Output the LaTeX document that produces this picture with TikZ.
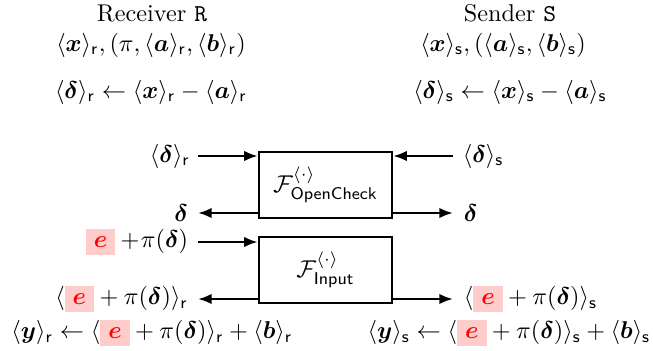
\documentclass[tikz,border=0pt]{standalone}
\usepackage{amsmath,bm}
\usetikzlibrary{arrows.meta}
\setlength{\fboxsep}{3.3pt}
\newcommand{\hle}{\colorbox{red!20}{$\color{red}\bm{e}$}}
\begin{document}
\begin{tikzpicture}[x=0.412pt,y=-0.412pt,
  fbox/.style={draw,line width=1pt,minimum width=133*0.412pt,minimum height=66*0.412pt,inner sep=0pt},
  arr/.style={line width=1pt,-{Latex[length=5.6pt,width=4.3pt]}},
  lab/.style={inner sep=1pt}]
\useasboundingbox (0,0) rectangle (653,351);
% headers
\node[lab] (rh) at (152,13) {Receiver \texttt{R}};
\node[lab] (sh) at (510,13) {Sender \texttt{S}};
\node[lab] (ri) at (151,45) {$\langle\bm{x}\rangle_{\mathsf{r}},(\pi,\langle\bm{a}\rangle_{\mathsf{r}},\langle\bm{b}\rangle_{\mathsf{r}})$};
\node[lab] (si) at (503,45) {$\langle\bm{x}\rangle_{\mathsf{s}},(\langle\bm{a}\rangle_{\mathsf{s}},\langle\bm{b}\rangle_{\mathsf{s}})$};
\node[lab] (rd) at (151,92) {$\langle\bm{\delta}\rangle_{\mathsf{r}}\leftarrow\langle\bm{x}\rangle_{\mathsf{r}}-\langle\bm{a}\rangle_{\mathsf{r}}$};
\node[lab] (sd) at (510,92) {$\langle\bm{\delta}\rangle_{\mathsf{s}}\leftarrow\langle\bm{x}\rangle_{\mathsf{s}}-\langle\bm{a}\rangle_{\mathsf{s}}$};
% boxes
\node[fbox] (oc) at (325.5,185) {$\mathcal{F}^{\langle\cdot\rangle}_{\mathsf{OpenCheck}}$};
\node[fbox] (in) at (325.5,270) {$\mathcal{F}^{\langle\cdot\rangle}_{\mathsf{Input}}$};
% coordinates
\coordinate (l1) at (198,156);
\coordinate (r1) at (453,156);
\coordinate (l2) at (198,213);
\coordinate (r2) at (453,213);
\coordinate (l3) at (198,242);
\coordinate (l4) at (198,299);
\coordinate (r4) at (453,299);
% labels
\node[lab,anchor=east] (dr) at (193,156) {$\langle\bm{\delta}\rangle_{\mathsf{r}}$};
\node[lab,anchor=west] (ds) at (460,156) {$\langle\bm{\delta}\rangle_{\mathsf{s}}$};
\node[lab,anchor=east] (d1) at (191,213) {$\bm{\delta}$};
\node[lab,anchor=west] (d2) at (461,213) {$\bm{\delta}$};
\node[lab,anchor=east] (ep) at (191,242) {\hle${}+\!\pi(\bm{\delta})$};
\node[lab,anchor=east] (er) at (191,299) {$\langle\hle+\pi(\bm{\delta})\rangle_{\mathsf{r}}$};
\node[lab,anchor=west] (es) at (461,299) {$\langle\hle+\pi(\bm{\delta})\rangle_{\mathsf{s}}$};
\node[lab] (yr) at (152,333) {$\langle\bm{y}\rangle_{\mathsf{r}}\leftarrow\langle\hle+\pi(\bm{\delta})\rangle_{\mathsf{r}}+\langle\bm{b}\rangle_{\mathsf{r}}$};
\node[lab] (ys) at (509,333) {$\langle\bm{y}\rangle_{\mathsf{s}}\leftarrow\langle\hle+\pi(\bm{\delta})\rangle_{\mathsf{s}}+\langle\bm{b}\rangle_{\mathsf{s}}$};
% arrows
\draw[arr] (l1) -- (l1 -| oc.west);
\draw[arr] (r1) -- (r1 -| oc.east);
\draw[arr] (l2 -| oc.west) -- (l2);
\draw[arr] (r2 -| oc.east) -- (r2);
\draw[arr] (l3) -- (l3 -| in.west);
\draw[arr] (l4 -| in.west) -- (l4);
\draw[arr] (r4 -| in.east) -- (r4);
\end{tikzpicture}
\end{document}
